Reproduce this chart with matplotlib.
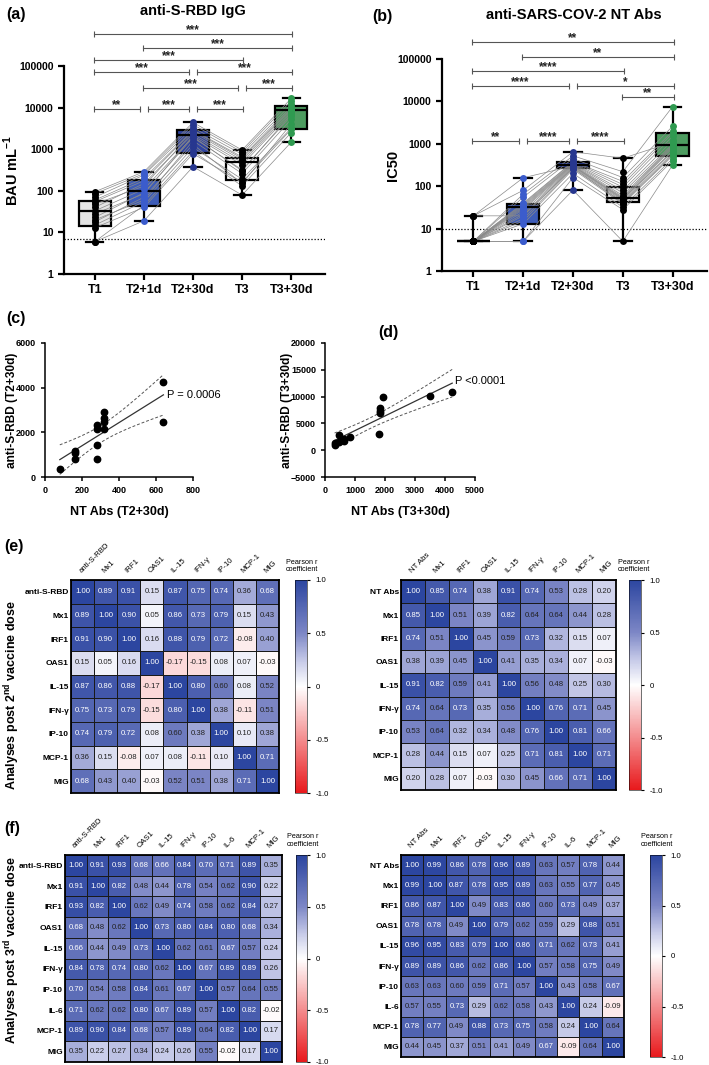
import numpy as np
import matplotlib
matplotlib.use("Agg")
import matplotlib.pyplot as plt
from matplotlib.colors import LinearSegmentedColormap

plt.rcParams['font.family'] = ['Liberation Sans', 'DejaVu Sans']
plt.rcParams['mathtext.fontset'] = 'custom'
plt.rcParams['mathtext.rm'] = 'Liberation Sans'
plt.rcParams['mathtext.bf'] = 'Liberation Sans:bold'
NARROW = ['Liberation Sans Narrow', 'Liberation Sans', 'DejaVu Sans']

# ---------------- data ----------------
times = ['T1', 'T2+1d', 'T2+30d', 'T3', 'T3+30d']

# (a) anti-S-RBD IgG, BAU/mL, per subject
T1_a = [6, 6, 13, 15, 18, 20, 23, 28, 33, 40, 48, 55, 60, 70, 85, 95]
T21_a = [19, 45, 40, 55, 70, 60, 90, 85, 110, 150, 130, 175, 200, 240, 260, 288]
T230_a = [380, 900, 780, 1100, 1300, 1600, 1900, 2100, 2000, 2300, 2600, 2800, 2900, 3300, 3900, 4400]
T3_a = [79, 130, 160, 190, 150, 260, 320, 420, 300, 480, 540, 600, 650, 750, 850, 955]
T330_a = [1470, 2500, 3000, 3200, 4000, 5200, 6300, 7500, 7000, 8200, 9000, 9600, 10500, 12000, 14500, 16600]
a_q1 = [14, 43, 830, 182, 3080]
a_med = [32, 100, 2200, 500, 8700]
a_q3 = [58, 178, 2900, 625, 11000]
a_lo = [6, 19, 380, 79, 1470]
a_hi = [95, 288, 4400, 955, 16600]
a_cut = 6.9
a_bars = [(0, 1, '**'), (1, 2, '***'), (2, 3, '***'), (1, 3, '***'), (3, 4, '***'),
          (0, 2, '***'), (2, 4, '***'), (0, 3, '***'), (1, 4, '***'), (0, 4, '***')]
a_rows = [0, 0, 0, 1, 1, 2, 2, 3, 4, 5]

# (b) anti-SARS-COV-2 NT Abs, IC50, per subject
T1_b = [5, 5, 5, 5, 5, 5, 5, 5, 5, 5, 5, 5, 5, 5, 5, 5, 5, 20, 20, 20]
T21_b = [5, 5, 13, 15, 17, 20, 22, 25, 28, 30, 32, 34, 36, 38, 40, 55, 65, 80, 158, 20]
T230_b = [81, 160, 200, 250, 265, 280, 290, 300, 310, 320, 330, 340, 350, 370, 380, 450, 520, 650, 300, 270]
T3_b = [5, 28, 32, 38, 42, 45, 48, 52, 55, 60, 70, 80, 95, 110, 130, 160, 220, 455, 50, 40]
T330_b = [316, 400, 450, 520, 600, 700, 800, 850, 900, 950, 1000, 1200, 1500, 1800, 2000, 2600, 7550, 1100, 650, 550]
b_q1 = [5, 13, 263, 41.5, 522]
b_med = [5, 31.5, 316, 54, 935]
b_q3 = [5, 38, 380, 97, 1830]
b_lo = [5, 5, 81, 5, 316]
b_hi = [20, 158, 650, 455, 7550]
b_cut = 10
b_bars = [(0, 1, '**'), (1, 2, '****'), (2, 3, '****'), (3, 4, '**'), (0, 2, '****'),
          (2, 4, '*'), (0, 3, '****'), (1, 4, '**'), (0, 4, '**')]
b_rows = [0, 0, 0, 1, 2, 2, 3, 4, 5]

# (c) / (d) correlations
nt_c = [80, 160, 160, 160, 280, 280, 280, 280, 320, 320, 320, 320, 640, 640]
rbd_c = [380, 800, 1080, 1180, 800, 1450, 2130, 2320, 2150, 2450, 2650, 2930, 4270, 2460]
nt_d = [320, 320, 450, 450, 640, 640, 830, 1810, 1830, 1830, 1830, 1940, 3500, 4240]
rbd_d = [1050, 1350, 1600, 2900, 1800, 2050, 2500, 2950, 6950, 7400, 7900, 9900, 10100, 10900]

# (e) / (f) Pearson r matrices
e_left_lab = ['anti-S-RBD', 'Mx1', 'IRF1', 'OAS1', 'IL-15', 'IFN-γ', 'IP-10', 'MCP-1', 'MIG']
e_left = [[1.00, 0.89, 0.91, 0.15, 0.87, 0.75, 0.74, 0.36, 0.68],
          [0.89, 1.00, 0.90, 0.05, 0.86, 0.73, 0.79, 0.15, 0.43],
          [0.91, 0.90, 1.00, 0.16, 0.88, 0.79, 0.72, -0.08, 0.40],
          [0.15, 0.05, 0.16, 1.00, -0.17, -0.15, 0.08, 0.07, -0.03],
          [0.87, 0.86, 0.88, -0.17, 1.00, 0.80, 0.60, 0.08, 0.52],
          [0.75, 0.73, 0.79, -0.15, 0.80, 1.00, 0.38, -0.11, 0.51],
          [0.74, 0.79, 0.72, 0.08, 0.60, 0.38, 1.00, 0.10, 0.38],
          [0.36, 0.15, -0.08, 0.07, 0.08, -0.11, 0.10, 1.00, 0.71],
          [0.68, 0.43, 0.40, -0.03, 0.52, 0.51, 0.38, 0.71, 1.00]]
e_right_lab = ['NT Abs', 'Mx1', 'IRF1', 'OAS1', 'IL-15', 'IFN-γ', 'IP-10', 'MCP-1', 'MIG']
e_right = [[1.00, 0.85, 0.74, 0.38, 0.91, 0.74, 0.53, 0.28, 0.20],
           [0.85, 1.00, 0.51, 0.39, 0.82, 0.64, 0.64, 0.44, 0.28],
           [0.74, 0.51, 1.00, 0.45, 0.59, 0.73, 0.32, 0.15, 0.07],
           [0.38, 0.39, 0.45, 1.00, 0.41, 0.35, 0.34, 0.07, -0.03],
           [0.91, 0.82, 0.59, 0.41, 1.00, 0.56, 0.48, 0.25, 0.30],
           [0.74, 0.64, 0.73, 0.35, 0.56, 1.00, 0.76, 0.71, 0.45],
           [0.53, 0.64, 0.32, 0.34, 0.48, 0.76, 1.00, 0.81, 0.66],
           [0.28, 0.44, 0.15, 0.07, 0.25, 0.71, 0.81, 1.00, 0.71],
           [0.20, 0.28, 0.07, -0.03, 0.30, 0.45, 0.66, 0.71, 1.00]]
f_left_lab = ['anti-S-RBD', 'Mx1', 'IRF1', 'OAS1', 'IL-15', 'IFN-γ', 'IP-10', 'IL-6', 'MCP-1', 'MIG']
f_left = [[1.00, 0.91, 0.93, 0.68, 0.66, 0.84, 0.70, 0.71, 0.89, 0.35],
          [0.91, 1.00, 0.82, 0.48, 0.44, 0.78, 0.54, 0.62, 0.90, 0.22],
          [0.93, 0.82, 1.00, 0.62, 0.49, 0.74, 0.58, 0.62, 0.84, 0.27],
          [0.68, 0.48, 0.62, 1.00, 0.73, 0.80, 0.84, 0.80, 0.68, 0.34],
          [0.66, 0.44, 0.49, 0.73, 1.00, 0.62, 0.61, 0.67, 0.57, 0.24],
          [0.84, 0.78, 0.74, 0.80, 0.62, 1.00, 0.67, 0.89, 0.89, 0.26],
          [0.70, 0.54, 0.58, 0.84, 0.61, 0.67, 1.00, 0.57, 0.64, 0.55],
          [0.71, 0.62, 0.62, 0.80, 0.67, 0.89, 0.57, 1.00, 0.82, -0.02],
          [0.89, 0.90, 0.84, 0.68, 0.57, 0.89, 0.64, 0.82, 1.00, 0.17],
          [0.35, 0.22, 0.27, 0.34, 0.24, 0.26, 0.55, -0.02, 0.17, 1.00]]
f_right_lab = ['NT Abs', 'Mx1', 'IRF1', 'OAS1', 'IL-15', 'IFN-γ', 'IP-10', 'IL-6', 'MCP-1', 'MIG']
f_right = [[1.00, 0.99, 0.86, 0.78, 0.96, 0.89, 0.63, 0.57, 0.78, 0.44],
           [0.99, 1.00, 0.87, 0.78, 0.95, 0.89, 0.63, 0.55, 0.77, 0.45],
           [0.86, 0.87, 1.00, 0.49, 0.83, 0.86, 0.60, 0.73, 0.49, 0.37],
           [0.78, 0.78, 0.49, 1.00, 0.79, 0.62, 0.59, 0.29, 0.88, 0.51],
           [0.96, 0.95, 0.83, 0.79, 1.00, 0.86, 0.71, 0.62, 0.73, 0.41],
           [0.89, 0.89, 0.86, 0.62, 0.86, 1.00, 0.57, 0.58, 0.75, 0.49],
           [0.63, 0.63, 0.60, 0.59, 0.71, 0.57, 1.00, 0.43, 0.58, 0.67],
           [0.57, 0.55, 0.73, 0.29, 0.62, 0.58, 0.43, 1.00, 0.24, -0.09],
           [0.78, 0.77, 0.49, 0.88, 0.73, 0.75, 0.58, 0.24, 1.00, 0.64],
           [0.44, 0.45, 0.37, 0.51, 0.41, 0.49, 0.67, -0.09, 0.64, 1.00]]

# ---------------- layout helpers ----------------
W, H = 709, 1065
fig = plt.figure(figsize=(W / 100, H / 100), dpi=100)


def px(l, t, r, b):
    return fig.add_axes([l / W, 1 - b / H, (r - l) / W, (b - t) / H])


def ftext(x, y, s, **kw):
    fig.text(x / W, 1 - y / H, s, **kw)


dot_col = ['black', '#3b5ccc', '#27378f', 'black', '#2f9a50']


def box_panel(ax, subj, q1, med, q3, lo, hi, fills, cut, bars, rows, levels, ylabel, ylab_x):
    x = np.arange(len(times))
    data = np.array(subj)
    for k in range(data.shape[1]):
        ax.plot(x, data[:, k], color='#8a8a8a', lw=0.5, zorder=3)
    stats = [dict(q1=q1[i], med=med[i], q3=q3[i], whislo=lo[i], whishi=hi[i]) for i in x]
    bp = ax.bxp(stats, positions=x, widths=0.65, patch_artist=True, showfliers=False,
                capwidths=0.35,
                boxprops=dict(lw=1.6, edgecolor='black', zorder=2),
                whiskerprops=dict(lw=1.6, color='black', zorder=2),
                capprops=dict(lw=1.6, color='black', zorder=2),
                medianprops=dict(lw=1.6, color='black', zorder=4))
    for patch, c in zip(bp['boxes'], fills):
        patch.set_facecolor(c)
    for i in x:
        ax.plot(np.full(data.shape[1], i), data[i], 'o', ms=5, color=dot_col[i], zorder=5,
                mec='none')
    ax.axhline(cut, ls=(0, (1, 1.5)), color='black', lw=0.9, zorder=1)
    ax.set_yscale('log')
    ax.set_ylim(1, 1e5)
    ax.set_xlim(-0.63, 4.69)
    ax.set_yticks([1, 10, 100, 1000, 10000, 100000])
    ax.set_yticklabels(['1', '10', '100', '1000', '10000', '100000'], fontsize=7.5, fontweight='bold')
    ax.minorticks_off()
    ax.set_xticks(x)
    ax.set_xticklabels(times, fontsize=9, fontweight='bold')
    ax.tick_params(width=1.6, length=4)
    for s in ['top', 'right']:
        ax.spines[s].set_visible(False)
    for s in ['left', 'bottom']:
        ax.spines[s].set_linewidth(1.6)
    ax.set_ylabel(ylabel, fontsize=10.5, fontweight='bold')
    ax.yaxis.set_label_coords(ylab_x, 0.5)
    # significance brackets
    for (i, j, lab), r in zip(bars, rows):
        same = [(a, b) for (a, b, _), rr in zip(bars, rows) if rr == r]
        x0 = i + (0.08 if any(b == i for a, b in same) else -0.02)
        x1 = j - (0.08 if any(a == j for a, b in same) else -0.02)
        y = 10 ** levels[r]
        ax.plot([x0, x1], [y, y], color='#555555', lw=0.8, marker='|', ms=5, mew=0.8,
                clip_on=False, zorder=6)
        ax.annotate(lab, ((x0 + x1) / 2, y), xytext=(0, -1.5), textcoords='offset points',
                    ha='center', va='bottom', fontsize=8.5, fontweight='bold', color='#222222',
                    annotation_clip=False)


ax_a = px(64, 66, 325, 274)
box_panel(ax_a, [T1_a, T21_a, T230_a, T3_a, T330_a], a_q1, a_med, a_q3, a_lo, a_hi,
          ['#e4e4e4', '#3d5cb8', '#2f43a0', 'white', '#4d9c60'], a_cut, a_bars, a_rows,
          [3.97, 4.47, 4.86, 5.14, 5.44, 5.76], r'BAU mL$^{\mathbf{-1}}$', -0.165)
ftext(193, 11, 'anti-S-RBD IgG', fontsize=10.5, fontweight='bold', ha='center', va='center')

ax_b = px(442, 59, 707, 271)
box_panel(ax_b, [T1_b, T21_b, T230_b, T3_b, T330_b], b_q1, b_med, b_q3, b_lo, b_hi,
          ['#e4e4e4', '#3d5cb8', '#2f43a0', '#efefef', '#4d9c60'], b_cut, b_bars, b_rows,
          [3.07, 4.10, 4.37, 4.72, 5.04, 5.39], 'IC50', -0.16)
ftext(574, 15, 'anti-SARS-COV-2 NT Abs', fontsize=10.5, fontweight='bold', ha='center', va='center')


def reg_panel(ax, xv, yv, xlim, ylim, xt, yt, xlabel, ylabel, ylab_x, ptxt, ppos):
    xv = np.array(xv, float)
    yv = np.array(yv, float)
    n = len(xv)
    b1, b0 = np.polyfit(xv, yv, 1)
    res = yv - (b0 + b1 * xv)
    s = np.sqrt(np.sum(res ** 2) / (n - 2))
    xs = np.linspace(xv.min(), xv.max(), 100)
    ys = b0 + b1 * xs
    se = s * np.sqrt(1 / n + (xs - xv.mean()) ** 2 / np.sum((xv - xv.mean()) ** 2))
    tval = 2.18
    ax.plot(xs, ys, color='#333333', lw=0.9)
    ax.plot(xs, ys + tval * se, color='#555555', lw=0.7, ls=(0, (3, 2)))
    ax.plot(xs, ys - tval * se, color='#555555', lw=0.7, ls=(0, (3, 2)))
    ax.plot(xv, yv, 'o', color='black', ms=4.6, clip_on=False, zorder=5)
    ax.set_xlim(*xlim)
    ax.set_ylim(*ylim)
    ax.set_xticks(xt)
    ax.set_yticks(yt)
    for lab in ax.get_xticklabels() + ax.get_yticklabels():
        lab.set_fontsize(6.5)
        lab.set_fontweight('bold')
        lab.set_family(NARROW)
    ax.tick_params(width=1.1, length=3)
    for sp in ['top', 'right']:
        ax.spines[sp].set_visible(False)
    for sp in ['left', 'bottom']:
        ax.spines[sp].set_linewidth(1.1)
    ax.set_xlabel(xlabel, fontsize=9, fontweight='bold', family=NARROW, labelpad=8)
    ax.set_ylabel(ylabel, fontsize=8.6, fontweight='bold', family=NARROW)
    ax.yaxis.set_label_coords(ylab_x, 0.5)
    ax.text(ppos[0], ppos[1], ptxt, fontsize=8, family=NARROW, ha='left', va='center')


ax_c = px(45, 343, 193, 477)
reg_panel(ax_c, nt_c, rbd_c, (0, 800), (0, 6000), [0, 200, 400, 600, 800], [0, 2000, 4000, 6000],
          'NT Abs (T2+30d)', 'anti-S-RBD (T2+30d)', -0.185, 'P = 0.0006', (660, 3650))
ax_d = px(325, 343, 475, 477)
reg_panel(ax_d, nt_d, rbd_d, (0, 5000), (-5000, 20000), [0, 1000, 2000, 3000, 4000, 5000],
          [-5000, 0, 5000, 10000, 15000, 20000],
          'NT Abs (T3+30d)', 'anti-S-RBD (T3+30d)', -0.215, 'P <0.0001', (4330, 12900))

cmap = LinearSegmentedColormap.from_list(
    'rwb', [(0.0, '#e8191c'), (0.5, 'white'), (0.62, '#c6cae8'), (0.75, '#7d87c6'), (1.0, '#2c46a0')])


def heatmap(ax, cax, mat, labels, ptxt_xy):
    m = np.array(mat)
    n = len(labels)
    pc = ax.pcolormesh(m, cmap=cmap, vmin=-1, vmax=1, edgecolors='#1a1a1a', linewidth=0.4)
    ax.set_xlim(0, n)
    ax.set_ylim(n, 0)
    for i in range(n):
        for j in range(n):
            v = m[i, j]
            ax.text(j + 0.5, i + 0.5, f'{v:.2f}', ha='center', va='center', fontsize=5.6,
                    color='white' if v >= 0.65 else '#222222')
    ax.set_xticks(np.arange(n) + 0.5)
    ax.set_xticklabels(labels, rotation=45, ha='left', va='bottom', rotation_mode='anchor',
                       fontsize=5.6)
    ax.xaxis.tick_top()
    ax.set_yticks(np.arange(n) + 0.5)
    ax.set_yticklabels(labels, fontsize=6, fontweight='bold')
    ax.tick_params(length=0, pad=1.5)
    ax.tick_params(axis='x', pad=4)
    for sp in ax.spines.values():
        sp.set_linewidth(1.3)
    cb = fig.colorbar(pc, cax=cax, ticks=[-1, -0.5, 0, 0.5, 1])
    cb.ax.set_yticklabels(['-1.0', '-0.5', '0', '0.5', '1.0'], fontsize=5.6)
    cb.ax.tick_params(length=2.5, width=0.8)
    cb.outline.set_linewidth(0.4)
    ftext(ptxt_xy[0], ptxt_xy[1], 'Pearson r\ncoefficient', fontsize=5.2, ha='left', va='bottom',
          linespacing=1.1)


heatmap(px(71, 580, 279, 793), px(295, 580, 307, 793), e_left, e_left_lab, (286, 573))
heatmap(px(401, 580, 616, 790), px(629, 580, 641, 790), e_right, e_right_lab, (618, 573))
heatmap(px(65, 855, 282, 1062), px(296, 855, 307, 1062), f_left, f_left_lab, (287, 848))
heatmap(px(401, 855, 624, 1057), px(650, 855, 662, 1057), f_right, f_right_lab, (641, 848))

ftext(12, 695, r'Analyses post 2$^{\mathbf{nd}}$ vaccine dose', rotation=90, fontsize=9,
      fontweight='bold', ha='center', va='center')
ftext(12, 950, r'Analyses post 3$^{\mathbf{rd}}$ vaccine dose', rotation=90, fontsize=9,
      fontweight='bold', ha='center', va='center')

for lab, x, y in [('(a)', 6, 15), ('(b)', 372, 17), ('(c)', 6, 318), ('(d)', 378, 333),
                  ('(e)', 4, 547), ('(f)', 4, 828)]:
    ftext(x, y, lab, fontsize=11.5, fontweight='bold', ha='left', va='center')

fig.savefig('out.png', dpi=100)
